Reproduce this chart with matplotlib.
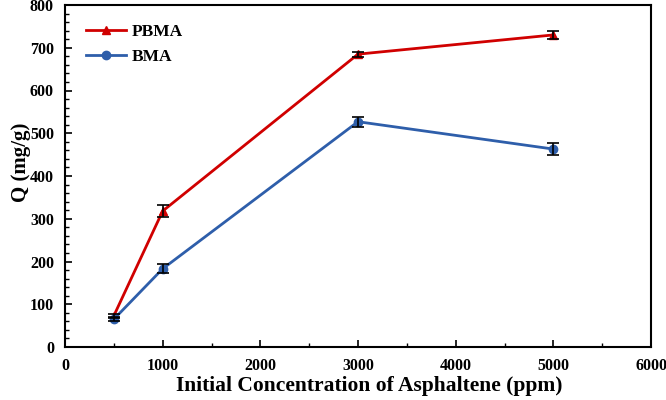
import matplotlib
matplotlib.use("Agg")
import matplotlib.pyplot as plt
from matplotlib.ticker import MultipleLocator

conc = [500, 1000, 3000, 5000]
pbma = [73, 318, 685, 730]
pbma_err = [5, 15, 6, 10]
bma = [65, 183, 527, 463]
bma_err = [5, 10, 12, 15]

plt.rcParams['font.family'] = ['Liberation Serif', 'DejaVu Serif']
plt.rcParams['font.weight'] = 'bold'

fig = plt.figure(figsize=(6.66, 4.0), dpi=100)
ax = fig.add_axes([0.0976, 0.1325, 0.8799, 0.855])

ax.plot(conc, pbma, color='#D00000', lw=2, marker='^', ms=6, label='PBMA', zorder=2)
ax.plot(conc, bma, color='#2E5EAA', lw=2, marker='o', ms=6, label='BMA', zorder=2)
ax.errorbar(conc, pbma, yerr=pbma_err, fmt='none', ecolor='black', elinewidth=1.2,
            capsize=4, capthick=1.2, zorder=3)
ax.errorbar(conc, bma, yerr=bma_err, fmt='none', ecolor='black', elinewidth=1.2,
            capsize=4, capthick=1.2, zorder=3)

ax.set_xlim(0, 6000)
ax.set_ylim(0, 800)
ax.xaxis.set_major_locator(MultipleLocator(1000))
ax.xaxis.set_minor_locator(MultipleLocator(500))
ax.yaxis.set_major_locator(MultipleLocator(100))
ax.yaxis.set_minor_locator(MultipleLocator(20))
ax.tick_params(which='both', direction='in', labelsize=11.5)
ax.tick_params(which='major', length=5, width=1.2)
ax.tick_params(which='minor', length=3, width=1)
ax.tick_params(axis='x', pad=8)
ax.tick_params(axis='y', pad=8)
for s in ax.spines.values():
    s.set_linewidth(1.5)
for lbl in ax.get_xticklabels() + ax.get_yticklabels():
    lbl.set_fontweight('bold')

ax.set_xlabel('Initial Concentration of Asphaltene (ppm)', fontsize=15.5, fontweight='bold', labelpad=3)
ax.xaxis.set_label_coords(0.52, -0.085)
ax.set_ylabel('Q (mg/g)', fontsize=15, fontweight='bold')
ax.yaxis.set_label_coords(-0.058, 0.54)

leg = ax.legend(loc='upper left', frameon=False, fontsize=12.5, handlelength=2.3,
                bbox_to_anchor=(0.01, 0.99), labelspacing=0.5, handletextpad=0.3)
for t in leg.get_texts():
    t.set_fontweight('bold')

fig.savefig('out.png', dpi=100)
